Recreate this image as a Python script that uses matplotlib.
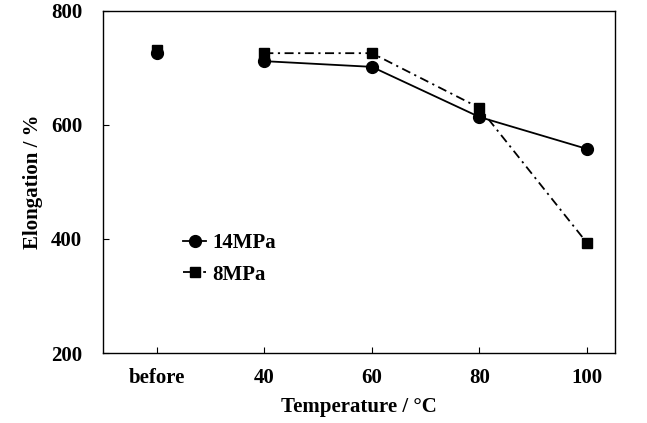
import matplotlib.pyplot as plt
import numpy as np

plt.rcParams['font.family'] = ['Liberation Serif', 'DejaVu Serif']
plt.rcParams['font.weight'] = 'bold'

# categories on the x axis
categories = ["before", "40", "60", "80", "100"]

# elongation values
elong_14 = [726, 712, 702, 614, 558]
elong_8 = [732, 726, 726, 630, 393]

x = np.arange(len(categories))

fig = plt.figure(figsize=(6.47, 4.23), dpi=100)
ax = fig.add_axes([103 / 647, 1 - 353 / 423, 512 / 647, 342 / 423])

# "before" point is not joined to the rest
ax.plot(x[0], elong_8[0], 's', color='black', markersize=7.5)
ax.plot(x[0], elong_14[0], 'o', color='black', markersize=8.5)

ax.plot(x[1:], elong_8[1:], '-.', marker='s', color='black', markersize=7.5,
        linewidth=1.3, dashes=(5, 2.5, 1.2, 2.5), label='8MPa')
ax.plot(x[1:], elong_14[1:], '-', marker='o', color='black', markersize=8.5,
        linewidth=1.3, label='14MPa')

ax.set_xlim(-0.5, 4.26)
ax.set_ylim(200, 800)
ax.set_yticks([200, 400, 600, 800])
ax.set_xticks(x)
ax.set_xticklabels(categories)

ax.tick_params(direction='in', length=4, labelsize=15)
ax.tick_params(axis='x', pad=11)
ax.tick_params(axis='y', pad=15)
for sp in ax.spines.values():
    sp.set_linewidth(1.0)

ax.set_xlabel('Temperature / °C', fontsize=15, fontweight='bold', labelpad=6)
ax.set_ylabel('Elongation / %', fontsize=15, fontweight='bold', labelpad=6)

h, l = ax.get_legend_handles_labels()
ax.legend(h[::-1], l[::-1], loc='lower left', bbox_to_anchor=(0.12, 0.145),
          frameon=False, handlelength=1.1, handletextpad=0.3,
          labelspacing=0.55, prop={'weight': 'bold', 'size': 15})

fig.savefig('out.png', dpi=100)
